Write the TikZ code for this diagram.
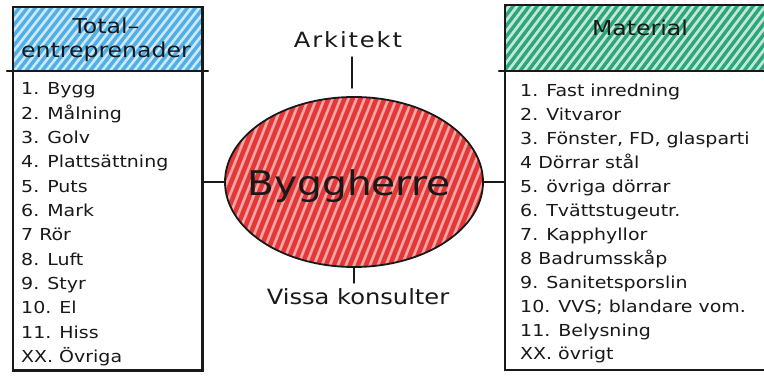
\documentclass[tikz,border=0pt]{standalone}
\usepackage{fontspec}
\setmainfont{DejaVu Sans}
\newfontfamily\hand[FakeStretch=1.15]{DejaVu Sans}
\newfontfamily\handsp[FakeStretch=1.15,LetterSpace=9]{DejaVu Sans}
\usetikzlibrary{shapes.geometric}
\definecolor{bluehatch}{RGB}{80,175,230}
\definecolor{bluelight}{RGB}{205,232,248}
\definecolor{greenhatch}{RGB}{45,165,125}
\definecolor{greenlight}{RGB}{195,232,215}
\definecolor{redhatch}{RGB}{228,55,55}
\definecolor{redlight}{RGB}{245,165,165}
\definecolor{ink}{RGB}{25,25,25}
\tikzset{
  boxline/.style={draw=ink, line width=2.4pt, line cap=round},
  thinline/.style={draw=ink, line width=1.4pt, line cap=round},
  item/.style={anchor=base west, inner sep=0pt, text=ink, font=\hand\fontsize{16.5}{18}\selectfont},
  headtext/.style={align=center, text=ink, inner sep=0pt, font=\hand\fontsize{20.5}{24}\selectfont},
  label/.style={text=ink, inner sep=0pt, font=\hand\fontsize{21}{23}\selectfont},
}
\begin{document}
\begin{tikzpicture}[x=1pt,y=-1pt]
\useasboundingbox (0,0) rectangle (764,377);
\fill[white] (0,0) rectangle (764,377);

% ---------- left box ----------
\node[minimum width=189pt, minimum height=363pt, inner sep=0pt, anchor=north west] (lbox) at (13,7) {};
\fill[bluelight] (13,7) rectangle (202,71);
\begin{scope}
  \clip (13,7) rectangle (202,71);
  \foreach \i in {-70,-62,...,210} \draw[bluehatch, line width=3.4pt] (\i,71) -- (\i+50,7);
\end{scope}
\draw[boxline] (lbox.north west) rectangle (lbox.south east);
\draw[boxline] (7,71) -- (208,71);
\node[headtext] (lhead) at (106,40) {Total–\\entreprenader};

\foreach \t [count=\i] in {1. Bygg,2. Målning,3. Golv,4. Plattsättning,5. Puts,6. Mark,7 Rör,8. Luft,9. Styr,10. El,11. Hiss,XX. Övriga}
  \node[item] (l\i) at (21,{95+24.3*(\i-1)}) {\t};

% ---------- right box ----------
\node[minimum width=270pt, minimum height=365pt, inner sep=0pt, anchor=north west] (rbox) at (505,5) {};
\fill[greenlight] (505,5) rectangle (764,71);
\begin{scope}
  \clip (505,5) rectangle (764,71);
  \foreach \i in {440,448,...,780} \draw[greenhatch, line width=3.4pt] (\i,71) -- (\i+50,5);
\end{scope}
\draw[boxline] (764,5) -- (rbox.north west) -- (505,370) -- (764,370);
\draw[boxline] (499,71) -- (764,71);
\node[headtext] (rhead) at (640,28) {Material};

\foreach \t [count=\i] in {1. Fast inredning,2. Vitvaror,{3. Fönster, FD, glasparti},4 Dörrar stål,5. övriga dörrar,6. Tvättstugeutr.,7. Kapphyllor,8 Badrumsskåp,9. Sanitetsporslin,{10. VVS; blandare vom.},11. Belysning,XX. övrigt}
  \node[item] (r\i) at (520,{97+23.9*(\i-1)}) {\t};

% ---------- centre ellipse ----------
\begin{scope}
  \clip (354,182) ellipse (129 and 85);
  \fill[redlight] (354,182) ellipse (129 and 85);
  \foreach \i in {140,148,...,520} \draw[redhatch, line width=4.5pt] (\i,270) -- (\i+70,95);
\end{scope}
\node[ellipse, draw=ink, line width=1.8pt, minimum width=258pt, minimum height=170pt, inner sep=0pt] (byg) at (354,182) {};
\node[text=ink, inner sep=0pt, font=\hand\fontsize{34}{36}\selectfont] (bygtext) at (349,186) {Byggherre};

\node[label, font=\handsp\fontsize{21}{23}\selectfont] (ark) at (348,40) {Arkitekt};
\coordinate (arkend) at (352,88);
\draw[thinline] (352,57) -- (arkend);

\node[label] (vis) at (358,297) {Vissa konsulter};
\draw[thinline] (byg.south) -- (byg.south |- 0,283);

% ---------- connectors ----------
\draw[boxline] (byg.west) -- (byg.west -| lbox.east);
\draw[boxline] (byg.east) -- (byg.east -| rbox.west);
\end{tikzpicture}
\end{document}
